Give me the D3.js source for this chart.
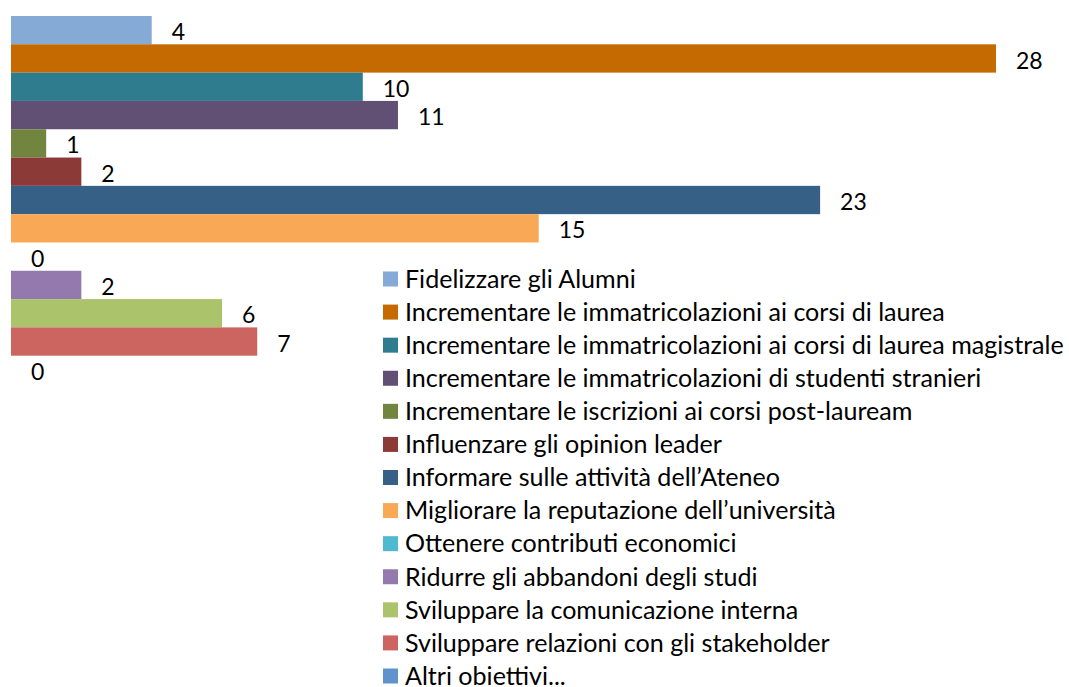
<!DOCTYPE html>
<html>
<head>
<meta charset="utf-8">
<script src="https://cdn.jsdelivr.net/npm/d3@7"></script>
<style>
  body { margin: 0; background: #fff; }
  svg { display: block; font-family: Lato, "Open Sans", sans-serif; }
</style>
</head>
<body>
<svg width="1069" height="687"></svg>
<script>
// data
let categories = [
    "Fidelizzare gli Alumni",
    "Incrementare le immatricolazioni ai corsi di laurea",
    "Incrementare le immatricolazioni ai corsi di laurea magistrale",
    "Incrementare le immatricolazioni di studenti stranieri",
    "Incrementare le iscrizioni ai corsi post-lauream",
    "Influenzare gli opinion leader",
    "Informare sulle attività dell’Ateneo",
    "Migliorare la reputazione dell’università",
    "Ottenere contributi economici",
    "Ridurre gli abbandoni degli studi",
    "Sviluppare la comunicazione interna",
    "Sviluppare relazioni con gli stakeholder",
    "Altri obiettivi..."
];
let values = [4, 28, 10, 11, 1, 2, 23, 15, 0, 2, 6, 7, 0];
let colors = ["#84aad5", "#c46a00", "#2f7c8f", "#614f74", "#72853e", "#8b3a38",
    "#376087", "#f9a855", "#4fb9d0", "#9479ae", "#abc46c", "#cc655f", "#5f93cb"];

let svg = d3.select("svg");

let x = d3.scaleLinear()
    .domain([0, 28])
    .range([11, 996]);
let y = d3.scaleBand()
    .domain(categories)
    .range([16, 384])
    .padding(0);

let data = categories.map((c, i) => ({cat: c, value: values[i], color: colors[i]}));

svg.append("g")
    .selectAll("rect")
    .data(data)
    .join("rect")
    .attr("x", x(0))
    .attr("y", d => y(d.cat))
    .attr("width", d => x(d.value) - x(0))
    .attr("height", y.bandwidth())
    .attr("fill", d => d.color);

svg.append("g")
    .selectAll("text")
    .data(data)
    .join("text")
    .attr("x", d => x(d.value) + 20)
    .attr("y", d => y(d.cat) + y.bandwidth() / 2 + 2)
    .attr("dy", "0.35em")
    .attr("font-size", 23)
    .attr("fill", "#000")
    .text(d => d.value);

// legend
let ly = d3.scalePoint()
    .domain(categories)
    .range([279, 676]);

let legend = svg.append("g")
    .selectAll("g")
    .data(data)
    .join("g")
    .attr("transform", d => "translate(383," + ly(d.cat) + ")");

legend.append("rect")
    .attr("x", 0)
    .attr("y", -7.5)
    .attr("width", 15)
    .attr("height", 15)
    .attr("fill", d => d.color);

let labels = legend.append("text")
    .attr("x", 22)
    .attr("dy", "0.35em")
    .attr("font-size", 21)
    .attr("fill", "#000")
    .text(d => d.cat);

// fit the longest legend entry to the width in the original
let longest = d3.max(labels.nodes(), n => n.getComputedTextLength());
let fs = 21 * 659 / longest;
labels.attr("font-size", fs);
</script>
</body>
</html>
